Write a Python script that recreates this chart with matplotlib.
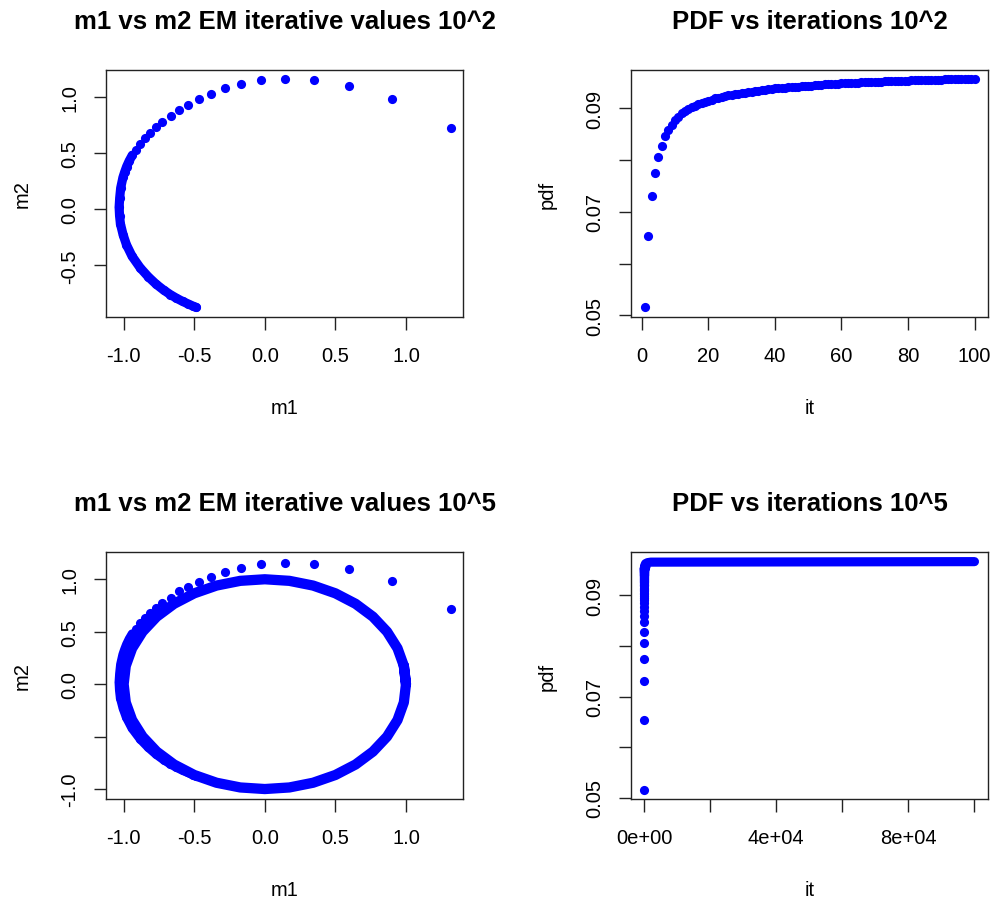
import matplotlib

matplotlib.use("Agg")
import matplotlib.pyplot as plt

BLUE = "#0000FF"

# EM iterates (m1, m2), first 100 iterations; from ~it 20 on the points
# sit so close together that they are listed more sparsely along the band
M1_PATH = [1.317, 0.904, 0.593, 0.347, 0.142, -0.030, -0.170, -0.281, -0.378, -0.467,
           -0.543, -0.607, -0.666, -0.725, -0.770, -0.812, -0.850, -0.883, -0.914, -0.939,
           -0.961, -0.979, -0.993, -1.005, -1.021, -1.028, -1.032, -1.029, -1.023, -1.004,
           -0.980, -0.941, -0.883, -0.825, -0.769, -0.717, -0.670, -0.628, -0.583, -0.546,
           -0.509, -0.485]
M2_PATH = [0.721, 0.979, 1.097, 1.145, 1.157, 1.145, 1.110, 1.074, 1.023, 0.976,
           0.930, 0.884, 0.824, 0.774, 0.728, 0.679, 0.630, 0.580, 0.529, 0.479,
           0.428, 0.378, 0.329, 0.282, 0.188, 0.100, 0.018, -0.059, -0.130, -0.228,
           -0.317, -0.418, -0.522, -0.603, -0.669, -0.720, -0.760, -0.791, -0.821, -0.842,
           -0.863, -0.875]
BAND_START = 19  # index where the iterates merge into a solid band

# limit cycle reached in the 10^5 run (unit circle, closed)
RING_M1 = [1.0, 0.985, 0.940, 0.866, 0.766, 0.643, 0.500, 0.342, 0.174, 0.0,
           -0.174, -0.342, -0.500, -0.643, -0.766, -0.866, -0.940, -0.985, -1.0,
           -0.985, -0.940, -0.866, -0.766, -0.643, -0.500, -0.342, -0.174, 0.0,
           0.174, 0.342, 0.500, 0.643, 0.766, 0.866, 0.940, 0.985, 1.0, 0.985]
RING_M2 = [0.0, 0.174, 0.342, 0.500, 0.643, 0.766, 0.866, 0.940, 0.985, 1.0,
           0.985, 0.940, 0.866, 0.766, 0.643, 0.500, 0.342, 0.174, 0.0,
           -0.174, -0.342, -0.500, -0.643, -0.766, -0.866, -0.940, -0.985, -1.0,
           -0.985, -0.940, -0.866, -0.766, -0.643, -0.500, -0.342, -0.174, 0.0, 0.174]

# pdf value per iteration, iterations 1..100
PDF_100 = [0.0516, 0.0654, 0.0730, 0.0775, 0.0806, 0.0828, 0.0846, 0.0858, 0.0868, 0.0877,
           0.0884, 0.0890, 0.0895, 0.0899, 0.0902, 0.0905, 0.0908, 0.0910, 0.0913, 0.0915,
           0.0917, 0.0919, 0.0920, 0.0922, 0.0923, 0.0925, 0.0926, 0.0927, 0.0928, 0.0929,
           0.0930, 0.0931, 0.0932, 0.0933, 0.0934, 0.0935, 0.0936, 0.0937, 0.0938, 0.0939,
           0.0939, 0.0940, 0.0940, 0.0941, 0.0941, 0.0942, 0.0942, 0.0943, 0.0943, 0.0944,
           0.0944, 0.0945, 0.0945, 0.0945, 0.0946, 0.0946, 0.0947, 0.0947, 0.0947, 0.0948,
           0.0948, 0.0948, 0.0949, 0.0949, 0.0949, 0.0950, 0.0950, 0.0950, 0.0951, 0.0951,
           0.0951, 0.0951, 0.0952, 0.0952, 0.0952, 0.0952, 0.0953, 0.0953, 0.0953, 0.0953,
           0.0954, 0.0954, 0.0954, 0.0954, 0.0954, 0.0955, 0.0955, 0.0955, 0.0955, 0.0955,
           0.0956, 0.0956, 0.0956, 0.0956, 0.0956, 0.0956, 0.0957, 0.0957, 0.0957, 0.0957]
IT_100 = list(range(1, 101))

# long run beyond iteration 100 (flat plateau)
IT_LONG = [100, 400, 1000, 2000, 100000]
PDF_LONG = [0.0957, 0.0962, 0.0964, 0.0965, 0.0966]

M_TICKS = [-1.0, -0.5, 0.0, 0.5, 1.0]
M_LABELS = ["-1.0", "-0.5", "0.0", "0.5", "1.0"]
M2_LABELS_LONG = ["-1.0", "", "0.0", "0.5", "1.0"]
PDF_TICKS = [0.05, 0.06, 0.07, 0.08, 0.09]
PDF_LABELS = ["0.05", "", "0.07", "", "0.09"]
IT_TICKS_100 = [0, 20, 40, 60, 80, 100]
IT_TICKS_LONG = [0, 20000, 40000, 60000, 80000, 100000]
IT_LABELS_LONG = ["0e+00", "", "4e+04", "", "8e+04", ""]

plt.rcParams["font.family"] = ["Liberation Sans", "DejaVu Sans"]

MS = 6.6      # dot diameter (pt)
FS = 14.5     # axis text
TFS = 18.5    # titles

fig = plt.figure(figsize=(9.92, 9.03), dpi=100)
W, H = 992, 903


def box(x0, y0, x1, y1):
    return fig.add_axes([x0 / W, 1 - y1 / H, (x1 - x0) / W, (y1 - y0) / H])


def style(ax, title, xlab, ylab):
    for s in ax.spines.values():
        s.set_linewidth(1.0)
        s.set_color("#222222")
    ax.tick_params(direction="out", length=9.0, width=1.0, labelsize=FS,
                   color="#222222", pad=12)
    ax.tick_params(axis="y", labelrotation=90, pad=10)
    for lab in ax.get_yticklabels():
        lab.set_va("center")
    ax.set_title(title, fontsize=TFS, fontweight="bold", pad=30)
    ax.set_xlabel(xlab, fontsize=FS, labelpad=24)
    ax.set_ylabel(ylab, fontsize=FS, labelpad=21)


ax1 = box(106, 71, 463, 318)
ax2 = box(631, 71, 988, 318)
ax3 = box(106, 553, 463, 800)
ax4 = box(631, 553, 988, 800)

# (1) m1 vs m2, 10^2 iterations
ax1.plot(M1_PATH[BAND_START:], M2_PATH[BAND_START:], color=BLUE, lw=MS,
         solid_capstyle="round", solid_joinstyle="round")
ax1.plot(M1_PATH, M2_PATH, "o", color=BLUE, ms=MS, mew=0)
ax1.set_xlim(-1.125, 1.404)
ax1.set_ylim(-0.96, 1.2375)
ax1.set_xticks(M_TICKS, M_LABELS)
ax1.set_yticks(M_TICKS[1:], M_LABELS[1:])
style(ax1, "m1 vs m2 EM iterative values 10^2", "m1", "m2")

# (2) pdf vs iterations, 10^2
ax2.plot(IT_100, PDF_100, "o", color=BLUE, ms=MS, mew=0)
ax2.set_xlim(-3.2, 104.0)
ax2.set_ylim(0.0497, 0.0974)
ax2.set_xticks(IT_TICKS_100, [str(t) for t in IT_TICKS_100])
ax2.set_yticks(PDF_TICKS, PDF_LABELS)
style(ax2, "PDF vs iterations 10^2", "it", "pdf")

# (3) m1 vs m2, 10^5 iterations
ax3.plot(RING_M1, RING_M2, color=BLUE, lw=7.4, solid_joinstyle="round",
         solid_capstyle="round")
ax3.plot(M1_PATH[BAND_START:], M2_PATH[BAND_START:], color=BLUE, lw=MS,
         solid_capstyle="round", solid_joinstyle="round")
ax3.plot(M1_PATH, M2_PATH, "o", color=BLUE, ms=MS, mew=0)
ax3.set_xlim(-1.125, 1.404)
ax3.set_ylim(-1.095, 1.26)
ax3.set_xticks(M_TICKS, M_LABELS)
ax3.set_yticks(M_TICKS, M2_LABELS_LONG)
style(ax3, "m1 vs m2 EM iterative values 10^5", "m1", "m2")

# (4) pdf vs iterations, 10^5
ax4.plot(IT_LONG, PDF_LONG, color=BLUE, lw=MS, solid_capstyle="round",
         solid_joinstyle="round")
ax4.plot(IT_100, PDF_100, "o", color=BLUE, ms=MS, mew=0)
ax4.set_xlim(-4000, 104100)
ax4.set_ylim(0.0498, 0.0985)
ax4.set_xticks(IT_TICKS_LONG, IT_LABELS_LONG)
ax4.set_yticks(PDF_TICKS, PDF_LABELS)
style(ax4, "PDF vs iterations 10^5", "it", "pdf")

fig.savefig("out.png", dpi=100)
